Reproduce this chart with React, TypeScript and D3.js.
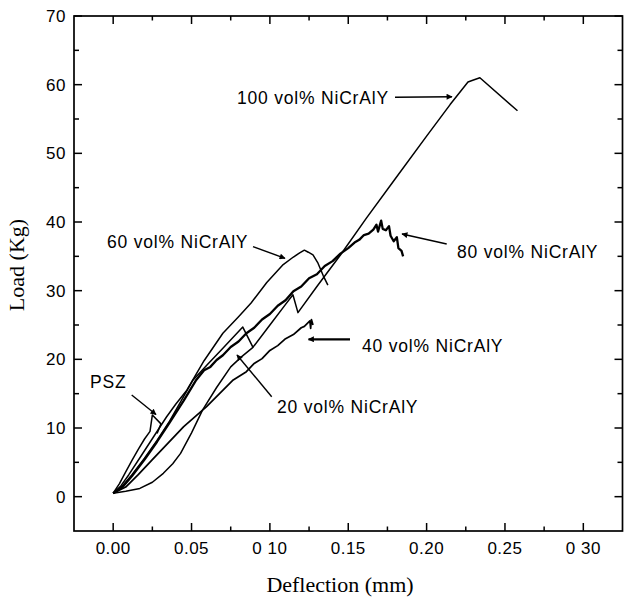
import React from "react";
import * as d3 from "d3";

// ---- data (deflection in mm, load in kg) ----
const PSZ_X = [0, 0.004, 0.008, 0.012, 0.016, 0.02, 0.0235, 0.025, 0.0305, 0.028];
const PSZ_Y = [0.5, 1.9, 3.6, 5.3, 6.9, 8.4, 9.5, 11.9, 10.6, 9.2];

const V20_X = [0, 0.006, 0.012, 0.02, 0.028, 0.036, 0.044, 0.051, 0.06, 0.07, 0.0827, 0.0893];
const V20_Y = [0.5, 1.6, 3.2, 5.6, 8.2, 11.0, 14.2, 17.0, 19.2, 21.6, 24.7, 21.7];

const V40_X = [0, 0.008, 0.016, 0.025, 0.035, 0.045, 0.0596, 0.0766, 0.085, 0.09, 0.095, 0.1, 0.105, 0.11, 0.115, 0.12, 0.122, 0.1255, 0.126, 0.1265, 0.1275];
const V40_Y = [0.5, 1.4, 3.2, 5.4, 7.8, 10.2, 13.1, 17.0, 18.2, 19.4, 20.1, 21.3, 22.0, 23.0, 23.6, 24.6, 24.8, 25.6, 24.5, 25.8, 25.0];

const V60_X = [0, 0.005, 0.01, 0.018, 0.026, 0.034, 0.04, 0.047, 0.058, 0.07, 0.08, 0.088, 0.098, 0.1085, 0.115, 0.119, 0.122, 0.1245, 0.1275, 0.1307, 0.134, 0.137];
const V60_Y = [0.5, 1.6, 3.2, 6.0, 8.8, 11.6, 13.5, 15.5, 19.8, 23.8, 26.2, 28.2, 31.2, 33.8, 34.9, 35.5, 35.9, 35.6, 35.2, 34.0, 32.2, 30.8];

const V80_X = [0, 0.006, 0.012, 0.02, 0.028, 0.036, 0.045, 0.053, 0.058, 0.062, 0.066, 0.07, 0.075, 0.08, 0.085, 0.09, 0.095, 0.1, 0.105, 0.11, 0.115, 0.12, 0.125, 0.13, 0.135, 0.14, 0.145, 0.15, 0.154, 0.157, 0.16, 0.163, 0.166, 0.168, 0.169, 0.171, 0.172, 0.174, 0.176, 0.177, 0.179, 0.181, 0.182, 0.184, 0.185];
const V80_Y = [0.5, 1.4, 3.0, 5.4, 8.0, 10.8, 14.0, 17.0, 18.4, 18.9, 19.9, 20.6, 21.8, 22.6, 23.8, 24.6, 25.8, 26.6, 27.8, 28.6, 29.9, 30.6, 31.8, 32.4, 33.6, 34.3, 35.4, 36.2, 37.0, 37.4, 38.1, 38.3, 38.9, 39.6, 38.6, 40.2, 39.0, 38.8, 39.4, 38.0, 37.2, 37.8, 36.2, 35.8, 35.0];

const V100_X = [0, 0.008, 0.017, 0.025, 0.032, 0.038, 0.043, 0.05, 0.057, 0.066, 0.075, 0.082, 0.089, 0.1, 0.11, 0.1147, 0.1179, 0.13, 0.145, 0.1617, 0.18, 0.2, 0.215, 0.2264, 0.229, 0.234, 0.258];
const V100_Y = [0.5, 0.8, 1.2, 2.1, 3.4, 4.8, 6.3, 9.3, 12.6, 15.9, 18.9, 20.4, 21.7, 25.0, 28.0, 29.4, 26.8, 30.6, 35.2, 40.6, 46.3, 52.5, 57.1, 60.4, 60.6, 61.0, 56.2];

const X_TICKS = [0, 0.05, 0.1, 0.15, 0.2, 0.25, 0.3];
const X_TICK_LABELS = ["0.00", "0.05", "0 10", "0.15", "0.20", "0.25", "0 30"];
const X_MINOR = [0.025, 0.075, 0.125, 0.175, 0.225, 0.275];
const Y_TICKS = [0, 10, 20, 30, 40, 50, 60, 70];
const Y_TICK_LABELS = ["0", "10", "20", "30", "40", "50", "60", "70"];
const Y_MINOR = [5, 15, 25, 35, 45, 55, 65];

const SERIES = [
  { x: PSZ_X, y: PSZ_Y, w: 1.5 },
  { x: V20_X, y: V20_Y, w: 1.5 },
  { x: V40_X, y: V40_Y, w: 1.7 },
  { x: V60_X, y: V60_Y, w: 1.5 },
  { x: V80_X, y: V80_Y, w: 2.3 },
  { x: V100_X, y: V100_Y, w: 1.5 },
];

const LABELS = [
  { text: "100 vol% NiCrAlY", tx: 237, ty: 98, a: [395, 97.3, 452, 96.7], w: 1.4 },
  { text: "60 vol% NiCrAlY", tx: 107, ty: 242, a: [253, 246.7, 285, 258.3], w: 1.4 },
  { text: "80 vol% NiCrAlY", tx: 457, ty: 252, a: [446.7, 244, 402, 234], w: 1.4 },
  { text: "40 vol% NiCrAlY", tx: 362, ty: 346, a: [350, 339.3, 308.5, 339.3], w: 2.3 },
  { text: "20 vol% NiCrAlY", tx: 277, ty: 407, a: [271.7, 396.7, 237, 355], w: 1.4 },
  { text: "PSZ", tx: 90, ty: 382, a: [131.7, 395, 156, 414.5], w: 1.4 },
];

const W = 624;
const H = 600;
const L = 74, R = 622.5, T = 16, B = 531;

export default function App() {
  const x = d3.scaleLinear().domain([-0.025, 0.325]).range([L, R]);
  const y = d3.scaleLinear().domain([-5, 70]).range([B, T]);
  const line = d3.line<[number, number]>().x((d) => x(d[0])).y((d) => y(d[1]));
  const sans = "'Liberation Sans', Arial, sans-serif";
  const serif = "'Liberation Serif', 'Times New Roman', serif";

  return (
    <div style={{ position: "absolute", left: 0, top: 0 }}>
      <svg width={W} height={H} style={{ display: "block", background: "#fff" }}>
        <defs>
          <marker id="ah" viewBox="0 0 10 10" refX="9" refY="5" markerWidth="9" markerHeight="6" markerUnits="userSpaceOnUse" orient="auto">
            <path d="M0,0 L10,5 L0,10 z" fill="#000" />
          </marker>
        </defs>
        {/* frame */}
        <rect x={L} y={T} width={R - L} height={B - T} fill="none" stroke="#000" strokeWidth={1.7} />
        {/* x ticks */}
        {X_TICKS.map((t) => (
          <g key={"xt" + t}>
            <line x1={x(t)} x2={x(t)} y1={B} y2={B - 8} stroke="#000" strokeWidth={1.5} />
            <line x1={x(t)} x2={x(t)} y1={T} y2={T + 8} stroke="#000" strokeWidth={1.5} />
          </g>
        ))}
        {X_MINOR.map((t) => (
          <g key={"xm" + t}>
            <line x1={x(t)} x2={x(t)} y1={B} y2={B - 4.5} stroke="#000" strokeWidth={1.5} />
            <line x1={x(t)} x2={x(t)} y1={T} y2={T + 4.5} stroke="#000" strokeWidth={1.5} />
          </g>
        ))}
        {Y_TICKS.map((t) => (
          <g key={"yt" + t}>
            <line x1={L} x2={L + 8} y1={y(t)} y2={y(t)} stroke="#000" strokeWidth={1.5} />
            <line x1={R} x2={R - 8} y1={y(t)} y2={y(t)} stroke="#000" strokeWidth={1.5} />
          </g>
        ))}
        {Y_MINOR.map((t) => (
          <g key={"ym" + t}>
            <line x1={L} x2={L + 5} y1={y(t)} y2={y(t)} stroke="#000" strokeWidth={1.5} />
            <line x1={R} x2={R - 5} y1={y(t)} y2={y(t)} stroke="#000" strokeWidth={1.5} />
          </g>
        ))}
        {/* tick labels */}
        {X_TICKS.map((t, i) => (
          <text key={"xl" + t} x={x(t)} y={554} textAnchor="middle" fontFamily={sans} fontSize={17} letterSpacing={0.5} fill="#000">
            {X_TICK_LABELS[i]}
          </text>
        ))}
        {Y_TICKS.map((t, i) => (
          <text key={"yl" + t} x={66} y={y(t)} dy="0.35em" textAnchor="end" fontFamily={sans} fontSize={17} letterSpacing={0.5} fill="#000">
            {Y_TICK_LABELS[i]}
          </text>
        ))}
        {/* axis titles */}
        <text x={340} y={592} textAnchor="middle" fontFamily={serif} fontSize={22} fill="#000">
          Deflection (mm)
        </text>
        <text transform={`translate(24,265) rotate(-90)`} textAnchor="middle" fontFamily={serif} fontSize={22} fill="#000">
          Load (Kg)
        </text>
        {/* curves */}
        {SERIES.map((s, i) => (
          <path
            key={"s" + i}
            d={line(s.x.map((v, j) => [v, s.y[j]] as [number, number])) || ""}
            fill="none"
            stroke="#000"
            strokeWidth={s.w}
            strokeLinejoin="round"
          />
        ))}
        {/* annotations */}
        {LABELS.map((l) => (
          <g key={l.text}>
            <text x={l.tx} y={l.ty} dy="0.35em" fontFamily={sans} fontSize={17.5} letterSpacing={0.8} fill="#000">
              {l.text}
            </text>
            <line x1={l.a[0]} y1={l.a[1]} x2={l.a[2]} y2={l.a[3]} stroke="#000" strokeWidth={l.w} markerEnd="url(#ah)" />
          </g>
        ))}
      </svg>
    </div>
  );
}
